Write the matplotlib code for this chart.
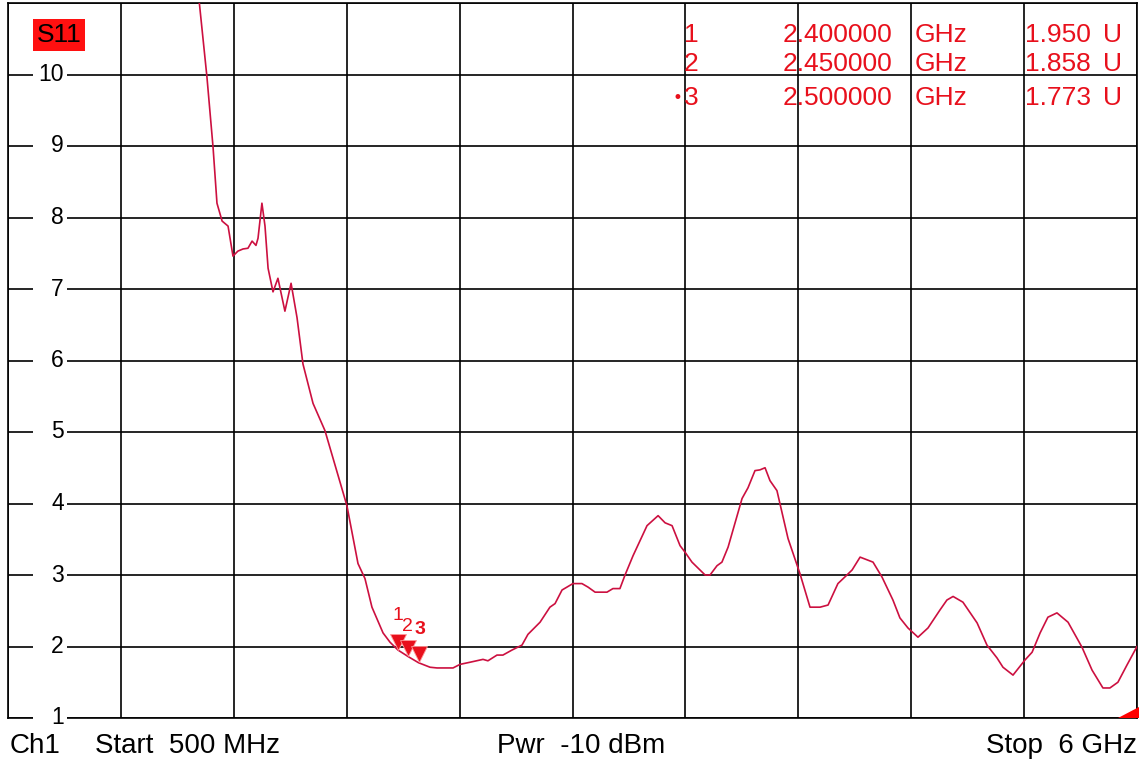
import matplotlib
matplotlib.use('Agg')
import matplotlib.pyplot as plt
import matplotlib.transforms as mtransforms
from matplotlib.patches import Rectangle, Polygon
import numpy as np

# trace, frequency in GHz, VSWR in U
freq = [1.425, 1.469, 1.499, 1.518, 1.543, 1.572, 1.596, 1.620, 1.645, 1.669,
        1.689, 1.708, 1.718, 1.737, 1.752, 1.767, 1.791, 1.815, 1.849, 1.879,
        1.908, 1.937, 1.986, 2.044, 2.151, 2.205, 2.239, 2.273, 2.327, 2.361,
        2.400, 2.450, 2.500, 2.556, 2.590, 2.668, 2.702, 2.751, 2.814, 2.838,
        2.882, 2.911, 2.955, 3.004, 3.033, 3.092, 3.140, 3.165, 3.199, 3.252,
        3.296, 3.326, 3.360, 3.418, 3.447, 3.481, 3.506, 3.545, 3.613, 3.667,
        3.701, 3.735, 3.774, 3.798, 3.832, 3.896, 3.920, 3.954, 3.978, 4.008,
        4.076, 4.105, 4.139, 4.163, 4.188, 4.212, 4.246, 4.300, 4.358, 4.407,
        4.456, 4.495, 4.543, 4.587, 4.612, 4.651, 4.714, 4.758, 4.811, 4.845,
        4.884, 4.933, 4.982, 5.040, 5.074, 5.104, 5.152, 5.221, 5.269, 5.318,
        5.347, 5.396, 5.454, 5.489, 5.528, 5.566, 5.610, 5.664, 5.732, 5.781,
        5.834, 5.868, 5.907, 5.951, 6.000]
vswr = [11.20, 9.97, 8.98, 8.20, 7.95, 7.88, 7.46, 7.53, 7.56, 7.57,
        7.67, 7.61, 7.71, 8.20, 7.88, 7.29, 6.96, 7.15, 6.69, 7.08,
        6.60, 5.95, 5.40, 5.02, 3.97, 3.16, 2.95, 2.55, 2.19, 2.06,
        1.950, 1.858, 1.773, 1.71, 1.70, 1.70, 1.75, 1.78, 1.82, 1.80,
        1.88, 1.88, 1.95, 2.02, 2.17, 2.34, 2.55, 2.60, 2.79, 2.88,
        2.88, 2.83, 2.76, 2.76, 2.81, 2.81, 3.00, 3.27, 3.69, 3.83,
        3.73, 3.69, 3.41, 3.32, 3.18, 3.00, 3.00, 3.13, 3.18, 3.39,
        4.07, 4.22, 4.46, 4.47, 4.50, 4.32, 4.18, 3.51, 3.02, 2.55,
        2.55, 2.58, 2.88, 3.00, 3.07, 3.25, 3.18, 2.97, 2.65, 2.40,
        2.26, 2.13, 2.26, 2.51, 2.65, 2.70, 2.62, 2.33, 2.02, 1.84,
        1.71, 1.60, 1.81, 1.92, 2.19, 2.41, 2.47, 2.34, 1.99, 1.67,
        1.42, 1.42, 1.50, 1.74, 2.00]

marker_ids = ['1', '2', '3']
marker_freqs = [2.400000, 2.450000, 2.500000]
marker_vals = [1.950, 1.858, 1.773]

y_ticks = [1, 2, 3, 4, 5, 6, 7, 8, 9, 10]
f_start, f_stop = 0.5, 6.0

TRACE = '#cc1040'
RED = '#e8101c'
FONT = 'Liberation Sans'

fig = plt.figure(figsize=(11.39, 7.67), dpi=100)
ax = fig.add_axes([8/1139, 1 - 718/767, 1129/1139, 715/767])
ax.set_xlim(f_start, f_stop)
ax.set_ylim(1, 11)
ax.set_xticks(np.linspace(f_start, f_stop, 11))
ax.set_yticks(range(1, 12))
ax.tick_params(length=0, labelbottom=False, labelleft=False)
ax.grid(True, color='black', lw=1.2)
for s in ax.spines.values():
    s.set_linewidth(1.2)
    s.set_color('black')

ax.plot(freq, vswr, color=TRACE, lw=1.2, zorder=4)

# y labels sit inside the grid with a gap in the line
blend = mtransforms.blended_transform_factory(ax.transAxes, ax.transData)
for v in y_ticks:
    ax.add_patch(Rectangle((25/1129, v - 0.04), 34/1129, 0.08, transform=blend,
                           facecolor='white', edgecolor='none', zorder=3, clip_on=False))
    ax.text(56/1129, v, str(v), transform=blend, ha='right', va='center',
            fontsize=16.5, family=FONT, zorder=5)

# markers: triangles with their tip on the trace
up = ax.transData + mtransforms.ScaledTranslation(0, 6/72, fig.dpi_scale_trans)
ax.plot(marker_freqs, marker_vals, ls='none', marker='v', ms=12, color=RED,
        mec='#ff9999', mew=0.6, transform=up, zorder=6)
offs = [(0, 35), (-1, 30), (1, 33)]
for i, (mid, mf, mv) in enumerate(zip(marker_ids, marker_freqs, marker_vals)):
    ax.annotate(mid, (mf, mv), xytext=offs[i], textcoords='offset pixels',
                ha='center', va='center', color=RED, family=FONT,
                fontsize=14, fontweight='bold' if i == 2 else 'normal', zorder=7)

# marker table, top right
row_y = [35, 64, 98]
for i, (mid, mf, mv) in enumerate(zip(marker_ids, marker_freqs, marker_vals)):
    y = 1 - row_y[i] / 767
    fig.text(684/1139, y, mid, color=RED, fontsize=19, family=FONT, ha='left', va='center')
    fig.text(892/1139, y, '%.6f' % mf, color=RED, fontsize=19, family=FONT, ha='right', va='center')
    fig.text(915/1139, y, 'GHz', color=RED, fontsize=19, family=FONT, ha='left', va='center')
    fig.text(1091/1139, y, '%.3f' % mv, color=RED, fontsize=19, family=FONT, ha='right', va='center')
    fig.text(1103/1139, y, 'U', color=RED, fontsize=19, family=FONT, ha='left', va='center')
fig.text(677/1139, 1 - 98/767, '•', color=RED, fontsize=12, family='DejaVu Sans', ha='center', va='center')

# trace name
fig.text(59/1139, 1 - 35/767, 'S11', color='black', fontsize=19, family=FONT, ha='center', va='center',
         bbox=dict(boxstyle='square,pad=0.15', facecolor='#ff1010', edgecolor='none'))

# corner triangle
ax.add_patch(Polygon([(1110/1129, 0), (1.002, 0), (1.002, 11/715)], closed=True,
                     transform=ax.transAxes, facecolor='#ff0000', edgecolor='none',
                     clip_on=False, zorder=6))

# channel info line
yb = 1 - 746/767
fig.text(10/1139, yb, 'Ch1', fontsize=20, family=FONT, ha='left', va='center')
fig.text(95/1139, yb, 'Start  500 MHz', fontsize=20, family=FONT, ha='left', va='center')
fig.text(497/1139, yb, 'Pwr  -10 dBm', fontsize=20, family=FONT, ha='left', va='center')
fig.text(1137/1139, yb, 'Stop  6 GHz', fontsize=20, family=FONT, ha='right', va='center')

fig.savefig('out.png', dpi=100)
